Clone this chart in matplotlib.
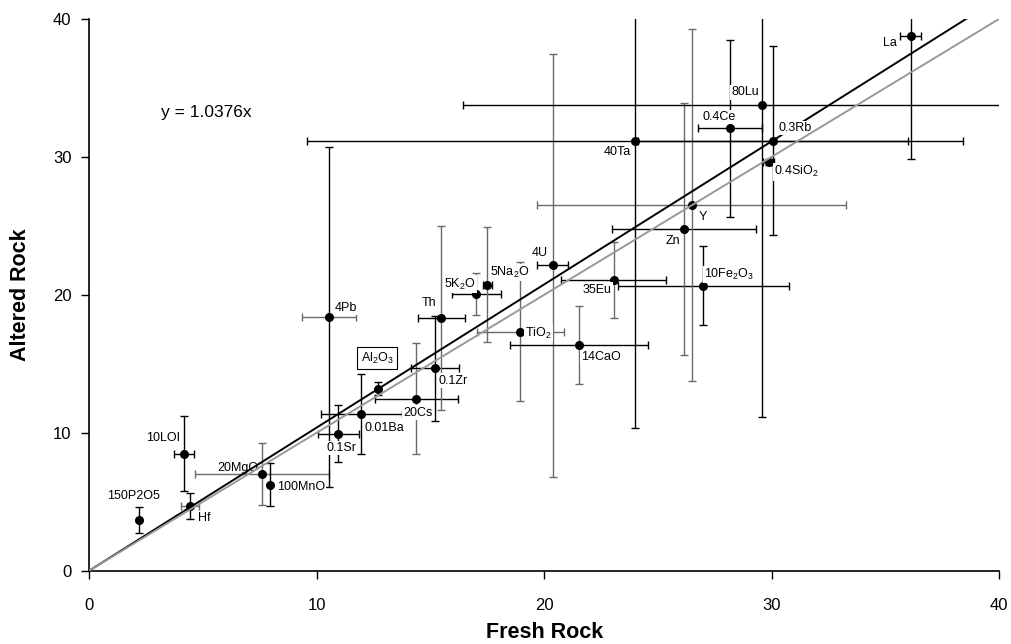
import numpy as np
import matplotlib
matplotlib.use("Agg")
from matplotlib import pyplot as plt

plt.rcParams['font.family'] = ['Liberation Sans', 'DejaVu Sans']
plt.rcParams['mathtext.fontset'] = 'custom'
plt.rcParams['mathtext.rm'] = 'Liberation Sans'
plt.rcParams['mathtext.it'] = 'Liberation Sans'

# element / oxide labels (scaled) and their fresh vs altered means
names = ['150P2O5', 'Hf', '10LOI', '20MgO', '100MnO', '4Pb', r'Al$_2$O$_3$',
         '0.01Ba', '0.1Sr', '20Cs', '0.1Zr', 'Th', r'5K$_2$O', r'5Na$_2$O',
         r'TiO$_2$', '4U', '14CaO', '35Eu', r'10Fe$_2$O$_3$', 'Zn', 'Y',
         '40Ta', '80Lu', '0.4Ce', '0.3Rb', r'0.4SiO$_2$', 'La']
fresh = [2.19, 4.42, 4.15, 7.57, 7.95, 10.54, 12.71, 11.95, 10.95, 14.37,
         15.19, 15.48, 17.02, 17.50, 18.95, 20.37, 21.53, 23.05, 26.99,
         26.15, 26.48, 23.99, 29.57, 28.17, 30.06, 29.88, 36.11]
altered = [3.66, 4.68, 8.48, 7.02, 6.23, 18.37, 13.19, 11.34, 9.91, 12.45,
           14.67, 18.32, 20.07, 20.72, 17.33, 22.13, 16.36, 21.08, 20.65,
           24.78, 26.52, 31.17, 33.78, 32.08, 31.17, 29.62, 38.79]
fresh_err = [0, 0.38, 0.45, 2.95, 0, 1.19, 0, 1.78, 0.92, 1.82,
             1.05, 1.04, 1.07, 0.21, 1.92, 0.67, 3.02, 2.31, 3.76,
             3.16, 6.80, 14.42, 13.13, 1.41, 5.92, 0.24, 0.47]
altered_err = [0.94, 0.94, 2.70, 2.26, 1.55, 12.34, 0.49, 2.88, 2.07, 4.03,
               3.81, 6.65, 1.51, 4.17, 5.06, 15.35, 2.81, 2.78, 2.87,
               9.13, 12.75, 20.86, 22.68, 6.41, 6.86, 0.20, 8.93]
slope = 1.0376

# bar colours: k = black, g = grey
xcol = ['k', 'g', 'k', 'g', 'k', 'g', 'k', 'k', 'k', 'k', 'k', 'k', 'k', 'k',
        'g', 'k', 'k', 'k', 'k', 'k', 'g', 'k', 'k', 'k', 'k', 'k', 'k']
ycol = ['k', 'k', 'k', 'g', 'k', 'k', 'k', 'k', 'k', 'g', 'k', 'g', 'g', 'g',
        'g', 'g', 'g', 'g', 'k', 'g', 'g', 'k', 'k', 'k', 'k', 'k', 'k']
# label offsets in points
offs = [(-4, 17), (10, -9), (-15, 11), (-17, 4), (22, -2), (12, 7), (-1, 22),
        (17, -10), (2, -10), (1, -10), (13, -9), (-9, 11), (-12, 7), (16, 9),
        (13, -1), (-9, 9), (16, -9), (-12, -7), (19, 8), (-8, -9), (8, -9),
        (-13, -8), (-12, 9), (-8, 8), (16, 9), (20, -7), (-15, -5)]

cmap = {'k': 'black', 'g': '#6a6a6a'}

fig = plt.figure(figsize=(10.11, 6.44), dpi=100)
ax = fig.add_axes([0.0885, 0.1141, 0.8996, 0.8564])

for i in range(len(names)):
    if fresh_err[i] > 0:
        ax.errorbar(fresh[i], altered[i], xerr=fresh_err[i], fmt='none',
                    ecolor=cmap[xcol[i]], elinewidth=1.0, capsize=3, capthick=1.0, zorder=2)
    ax.errorbar(fresh[i], altered[i], yerr=altered_err[i], fmt='none',
                ecolor=cmap[ycol[i]], elinewidth=1.0, capsize=3, capthick=1.0, zorder=2)
ax.plot(fresh, altered, 'o', color='black', markersize=5.5, zorder=3)

xx = np.array([0, 40 / slope])
ax.plot(xx, slope * xx, color='black', lw=1.4, zorder=4)
ax.plot([0, 40], [0, 40], color='#999999', lw=1.4, zorder=6)

for i, n in enumerate(names):
    if n == r'Al$_2$O$_3$':
        bb = dict(boxstyle='square,pad=0.3', fc='white', ec='black', lw=0.8)
    elif n == '20MgO':
        bb = None
    else:
        bb = dict(boxstyle='square,pad=0.1', fc='white', ec='none')
    ax.annotate(n, (fresh[i], altered[i]), xytext=offs[i], textcoords='offset points',
                ha='center', va='center', fontsize=9, bbox=bb, zorder=5)

ax.text(5.14, 33.2, 'y = 1.0376x', fontsize=12.5, ha='center', va='center')

ax.set_xlim(0, 40)
ax.set_ylim(0, 40)
ax.set_xticks([0, 10, 20, 30, 40])
ax.set_yticks([0, 10, 20, 30, 40])
ax.spines['top'].set_visible(False)
ax.spines['right'].set_visible(False)
ax.spines['left'].set_linewidth(1.2)
ax.spines['bottom'].set_linewidth(1.2)
ax.tick_params(direction='out', length=6, width=1, labelsize=12, pad=7)
ax.tick_params(axis='x', pad=14)
ax.set_xlabel('Fresh Rock', fontsize=15.5, fontweight='bold', labelpad=6)
ax.set_ylabel('Altered Rock', fontsize=15.5, fontweight='bold', labelpad=16)

fig.savefig('out.png', dpi=100)
